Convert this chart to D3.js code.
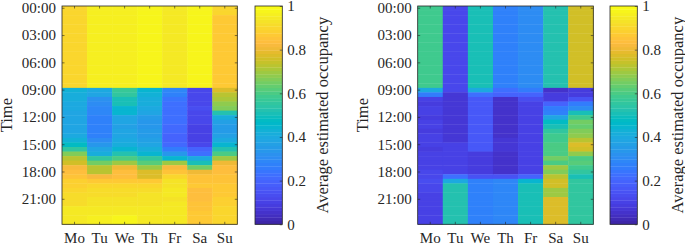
<!DOCTYPE html>
<html>
<head>
<meta charset="utf-8">
<script src="https://cdn.jsdelivr.net/npm/d3@7"></script>
<style>
  body { margin: 0; background: #fff; }
  svg { display: block; }
</style>
</head>
<body>
<div class="container"></div>
<script>
// chart size
const width = 685;
const height = 245;

// categories and tick labels
const days = ["Mo", "Tu", "We", "Th", "Fr", "Sa", "Su"];
const timeTicks = ["00:00", "03:00", "06:00", "09:00", "12:00", "15:00", "18:00", "21:00"];
const colorTicks = [0, 0.2, 0.4, 0.6, 0.8, 1];

// left panel: one value per half hour (48 rows) for each day
const leftMo = [.90,.90,.90,.90,.90,.90,.90,.90,.90,.90,.90,.90,.90,.90,.90,.90,.90,.90,
  .43,.42,.41,.40,.40,.39,.38,.39,.38,.39,.40,.43,.47,.55,.66,.72,.76,.82,.84,.85,.88,.89,.90,.91,.92,.92,.94,.95,.95,.95];
const leftTu = [.96,.96,.96,.96,.96,.96,.96,.96,.96,.96,.96,.96,.96,.96,.96,.96,.96,.96,
  .40,.38,.32,.30,.29,.29,.28,.28,.27,.27,.28,.30,.33,.38,.42,.55,.65,.72,.73,.82,.86,.90,.92,.92,.93,.93,.95,.95,.96,.96];
const leftWe = [.96,.96,.96,.96,.96,.96,.96,.96,.96,.96,.96,.96,.96,.96,.96,.96,.96,.96,
  .57,.56,.50,.50,.45,.44,.39,.38,.37,.38,.38,.40,.41,.45,.52,.60,.70,.80,.83,.84,.87,.90,.92,.92,.93,.93,.94,.95,.98,.98];
const leftTh = [.98,.98,.98,.98,.98,.98,.98,.98,.98,.98,.98,.98,.98,.98,.98,.98,.98,.98,
  .44,.43,.42,.41,.40,.38,.35,.34,.34,.35,.35,.37,.39,.42,.45,.55,.62,.70,.77,.78,.87,.90,.92,.93,.93,.93,.95,.95,.95,.95];
const leftFr = [.95,.95,.95,.95,.95,.95,.95,.95,.95,.95,.95,.95,.95,.95,.95,.95,.95,.95,
  .29,.27,.24,.23,.22,.22,.22,.22,.21,.21,.20,.20,.21,.26,.33,.45,.70,.82,.85,.90,.93,.93,.94,.94,.93,.94,.95,.95,.95,.95];
const leftSa = [.97,.97,.97,.97,.97,.97,.97,.97,.97,.97,.97,.97,.97,.97,.97,.97,.97,.97,
  .12,.12,.12,.12,.13,.12,.11,.11,.10,.10,.10,.10,.12,.20,.22,.40,.50,.65,.80,.85,.85,.86,.84,.84,.83,.85,.85,.86,.87,.87];
const leftSu = [.90,.90,.87,.87,.87,.87,.87,.87,.87,.87,.87,.87,.87,.87,.87,.87,.87,.87,
  .78,.72,.71,.68,.66,.52,.42,.36,.35,.35,.36,.40,.45,.52,.60,.70,.80,.84,.84,.85,.85,.86,.87,.87,.88,.88,.90,.90,.90,.90];

// right panel
const rightMo = [.58,.58,.58,.58,.58,.58,.58,.58,.58,.58,.58,.58,.58,.58,.58,.58,.58,.58,
  .40,.25,.10,.09,.10,.10,.09,.10,.10,.09,.10,.10,.10,.09,.10,.10,.10,.10,.12,.12,.13,.12,.11,.10,.10,.10,.10,.10,.10,.10];
const rightTu = [.12,.12,.12,.12,.12,.12,.12,.12,.12,.12,.12,.12,.12,.12,.12,.12,.12,.12,
  .12,.07,.07,.07,.07,.07,.07,.07,.07,.07,.07,.07,.10,.10,.10,.10,.10,.10,.10,.22,.40,.53,.53,.53,.53,.53,.53,.53,.53,.53];
const rightWe = [.50,.50,.50,.50,.50,.50,.50,.50,.50,.50,.50,.50,.50,.50,.50,.50,.50,.50,
  .40,.22,.17,.17,.17,.17,.17,.17,.17,.17,.17,.17,.17,.17,.09,.09,.09,.09,.09,.15,.27,.27,.27,.27,.27,.27,.27,.27,.27,.27];
const rightTh = [.28,.28,.28,.28,.28,.28,.28,.28,.28,.28,.28,.28,.28,.28,.28,.28,.28,.28,
  .22,.20,.06,.06,.06,.06,.06,.06,.06,.06,.06,.07,.07,.07,.06,.06,.06,.06,.06,.15,.29,.29,.29,.29,.29,.29,.29,.29,.29,.29];
const rightFr = [.30,.30,.30,.30,.30,.30,.30,.30,.30,.30,.30,.30,.30,.30,.30,.30,.30,.30,
  .25,.20,.13,.10,.10,.10,.10,.10,.10,.10,.10,.10,.10,.10,.10,.10,.10,.10,.10,.20,.45,.50,.50,.50,.50,.50,.50,.50,.50,.50];
const rightSa = [.52,.52,.52,.52,.52,.52,.52,.52,.52,.52,.53,.53,.53,.53,.53,.53,.53,.53,
  .05,.08,.08,.20,.25,.28,.38,.47,.50,.55,.58,.58,.60,.60,.60,.65,.60,.70,.67,.72,.75,.75,.70,.70,.77,.77,.77,.77,.77,.77];
const rightSu = [.75,.75,.75,.75,.75,.75,.75,.75,.75,.75,.75,.75,.75,.75,.75,.75,.75,.75,
  .08,.08,.15,.25,.30,.50,.58,.65,.64,.66,.68,.72,.78,.76,.68,.60,.62,.58,.55,.50,.55,.55,.55,.55,.55,.55,.55,.55,.55,.55];

// parula colormap, 64 entries like matlab
const parula = ["#3e26a8","#402ab4","#422ec0","#4432cb","#4537d5","#463cde","#4741e5","#4847eb",
  "#484df0","#4852f4","#4758f8","#465efb","#4563fd","#4269fe","#3e6fff","#3875fe",
  "#327cfc","#2f81fa","#2e87f7","#2d8cf3","#2b91ef","#2797eb","#259be8","#23a0e5",
  "#20a5e3","#1ca9e0","#18addb","#12b1d6","#08b5d0","#01b8ca","#02bbc3","#0bbdbd",
  "#19bfb6","#24c1af","#2cc4a7","#31c69f","#37c897","#3fca8e","#4acb84","#57cc7a",
  "#64cd6f","#72cd64","#81cc59","#8fcb4e","#9dc943","#abc739","#b9c431","#c5c22a",
  "#d1bf27","#dcbd29","#e6bb2d","#f0ba36","#f8ba3d","#febe3d","#fec338","#fec934",
  "#fcd030","#fad62d","#f7dc2a","#f5e327","#f5e924","#f6ef20","#f7f51b","#f9fb15"];

const color = d3.scaleQuantize().domain([0, 1]).range(parula);

// half hour row labels
const slots = d3.range(48).map(i => d3.format("02")(Math.floor(i / 2)) + (i % 2 ? ":30" : ":00"));

const plotTop = 6, plotBottom = 224.3, tickLen = 2.5;
const ink = "#262626";
const serif = "'Liberation Serif', 'Times New Roman', 'DejaVu Serif', serif";

const svg = d3.select(".container")
  .append("svg")
  .attr("width", width)
  .attr("height", height)
  .attr("font-family", serif);

function styleAxis(g, size) {
  g.attr("font-family", serif).attr("font-size", size);
  g.select(".domain").remove();
  g.selectAll("line").attr("stroke", ink).attr("stroke-width", 0.6);
  g.selectAll("text").attr("fill", ink);
}

function drawPanel(columns, x0, x1, cbX) {
  const xScale = d3.scaleBand().domain(days).range([x0, x1]);
  const yScale = d3.scaleBand().domain(slots).range([plotTop, plotBottom]);

  const cells = columns.flatMap((col, i) => col.map((v, j) => ({ day: days[i], slot: slots[j], v })));

  // heatmap cells
  svg.append("g")
    .selectAll("rect")
    .data(cells)
    .join("rect")
    .attr("x", d => xScale(d.day))
    .attr("y", d => yScale(d.slot))
    .attr("width", xScale.bandwidth() + 0.4)
    .attr("height", yScale.bandwidth() + 0.4)
    .attr("fill", d => color(d.v));

  // axes, ticks pointing inwards on all four sides
  svg.append("g").attr("transform", `translate(${x0},0)`)
    .call(d3.axisLeft(yScale).tickValues(timeTicks).tickSize(-tickLen).tickPadding(6))
    .call(g => styleAxis(g, 15));
  svg.append("g").attr("transform", `translate(${x1},0)`)
    .call(d3.axisRight(yScale).tickValues(timeTicks).tickSize(-tickLen).tickFormat(""))
    .call(g => styleAxis(g, 15));
  svg.append("g").attr("transform", `translate(0,${plotBottom})`)
    .call(d3.axisBottom(xScale).tickSize(-tickLen).tickPadding(8.5))
    .call(g => styleAxis(g, 15));
  svg.append("g").attr("transform", `translate(0,${plotTop})`)
    .call(d3.axisTop(xScale).tickSize(-tickLen).tickFormat(""))
    .call(g => styleAxis(g, 15));

  svg.append("rect")
    .attr("x", x0).attr("y", plotTop)
    .attr("width", x1 - x0).attr("height", plotBottom - plotTop)
    .attr("fill", "none").attr("stroke", ink).attr("stroke-width", 0.8);

  svg.append("text")
    .attr("transform", `translate(${x0 - 55.2},${(plotTop + plotBottom) / 2}) rotate(-90)`)
    .attr("dy", "0.33em")
    .attr("text-anchor", "middle")
    .attr("font-size", 16.5)
    .attr("fill", ink)
    .text("Time");

  // colorbar
  const cbW = 27.3;
  const cScale = d3.scaleLinear().domain([0, 1]).range([plotBottom, plotTop]);
  svg.append("g")
    .selectAll("rect")
    .data(parula)
    .join("rect")
    .attr("x", cbX)
    .attr("y", (d, i) => cScale((i + 1) / parula.length))
    .attr("width", cbW)
    .attr("height", (d, i) => cScale(i / parula.length) - cScale((i + 1) / parula.length) + 0.3)
    .attr("fill", d => d);

  svg.append("g").attr("transform", `translate(${cbX + cbW},0)`)
    .call(d3.axisRight(cScale).tickValues(colorTicks).tickSize(-tickLen).tickPadding(5)
      .tickFormat(d => (d === 0 || d === 1) ? d : d.toFixed(1)))
    .call(g => styleAxis(g, 15));

  svg.append("rect")
    .attr("x", cbX).attr("y", plotTop)
    .attr("width", cbW).attr("height", plotBottom - plotTop)
    .attr("fill", "none").attr("stroke", ink).attr("stroke-width", 0.8);

  svg.append("text")
    .attr("transform", `translate(${cbX + cbW + 39.7},${(plotTop + plotBottom) / 2}) rotate(-90)`)
    .attr("dy", "0.35em")
    .attr("text-anchor", "middle")
    .attr("font-size", 16.5)
    .attr("fill", ink)
    .text("Average estimated occupancy");
}

drawPanel([leftMo, leftTu, leftWe, leftTh, leftFr, leftSa, leftSu], 62, 237.3, 255);
drawPanel([rightMo, rightTu, rightWe, rightTh, rightFr, rightSa, rightSu], 417.7, 593.3, 610);
</script>
</body>
</html>
